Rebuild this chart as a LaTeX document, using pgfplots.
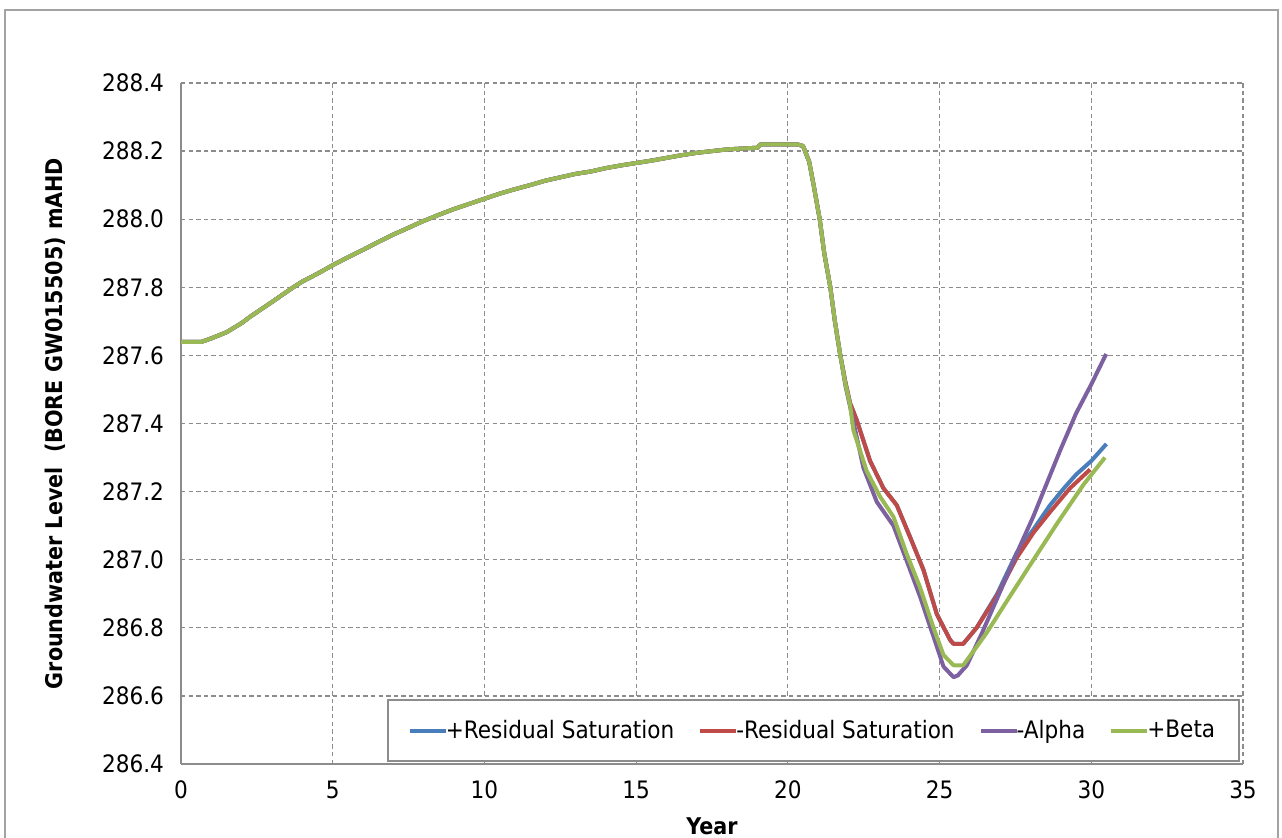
\documentclass[border=0pt]{standalone}
\usepackage{pgfplots}
\pgfplotsset{compat=1.18}
\usepackage{fontspec}
\setmainfont{DejaVu Sans Condensed}
\definecolor{cblue}{HTML}{4A7EBB}
\definecolor{cred}{HTML}{BE4B48}
\definecolor{cpurple}{HTML}{7D60A0}
\definecolor{cgreen}{HTML}{98B954}
\definecolor{gridc}{HTML}{8C8C8C}
\begin{document}
\begin{tikzpicture}[x=1pt,y=1pt]
\useasboundingbox (-90.5,-36.5) rectangle (550.5,382);
\draw[gridc!80, line width=0.8pt] (-88,-45) rectangle (548.5,377);
\begin{axis}[
  at={(0,0)}, anchor=south west,
  scale only axis, width=531pt, height=340.5pt,
  xmin=0, xmax=35, ymin=286.4, ymax=288.4,
  xtick={0,5,10,15,20,25,30,35},
  ytick={286.4,286.6,286.8,287.0,287.2,287.4,287.6,287.8,288.0,288.2,288.4},
  yticklabel style={/pgf/number format/fixed, /pgf/number format/fixed zerofill, /pgf/number format/precision=1},
  /pgf/number format/assume math mode=true,
  ticklabel style={font=\fontsize{12}{14}\selectfont},
  xticklabel style={yshift=-5pt},
  yticklabel style={xshift=-5pt},
  major tick length=0pt,
  axis x line*=bottom, axis y line*=left,
  axis line style={gridc, line width=0.9pt, -},
  grid=major,
  grid style={gridc, line width=0.6pt, dash pattern=on 2.2pt off 1.6pt},
  xlabel={Year}, ylabel={Groundwater Level\ \ (BORE GW015505) mAHD},
  label style={font=\bfseries\fontsize{11.5}{13}\selectfont},
  xlabel style={at={(axis description cs:0.5,-0.091)}, anchor=center},
  ylabel style={at={(axis description cs:-0.1186,0.5)}, anchor=center},
  legend columns=4,
  legend style={at={(rel axis cs:0.9972,0.003)}, anchor=south east,
    draw=gridc, line width=0.8pt, fill=white,
    font=\fontsize{12}{14}\selectfont, inner xsep=10pt, inner ysep=8pt,
    /tikz/every odd column/.append style={column sep=-3pt},
    /tikz/every even column/.append style={column sep=10pt}},
  legend image code/.code={\draw[#1] (0pt,0pt) -- (18pt,0pt);},
  every axis plot/.append style={line width=2pt, line join=round},
]
\addplot[cblue] coordinates {
(0,287.64) (0.68,287.64) (1,287.65) (1.5,287.668) (2,287.695) (2.27,287.713) (3,287.757) (3.7,287.80) (4,287.817) (4.5,287.84) (5,287.865) (5.5,287.888) (6,287.91) (6.5,287.933) (7,287.955) (7.5,287.975) (8,287.995) (8.5,288.013) (9,288.03) (9.5,288.045) (10,288.06) (10.5,288.075) (11,288.088) (11.5,288.10) (12,288.113) (12.5,288.123) (13,288.133) (13.5,288.14) (14,288.15) (14.5,288.158) (15,288.165) (15.5,288.172) (16,288.18) (16.5,288.188) (17,288.195) (17.5,288.20) (18,288.205) (19,288.21) (19.1,288.22) (20.3,288.22) (20.5,288.215) (20.7,288.17) (20.85,288.10) (21.05,288.00) (21.2,287.90) (21.4,287.80) (21.55,287.70) (21.72,287.605) (21.9,287.52) (22.05,287.46)
(22.27,287.41) (22.71,287.29) (23.15,287.21) (23.59,287.16) (24.03,287.066) (24.47,286.97) (24.91,286.84) (25.35,286.764) (25.46,286.753) (25.78,286.753) (26.22,286.80) (26.9,286.90) (27.54,287.02) (28.1,287.09) (28.64,287.16) (29.1,287.21) (29.5,287.25) (30.0,287.29) (30.5,287.34)
};
\addlegendentry{+Residual Saturation}
\addplot[cred] coordinates {
(0,287.64) (0.68,287.64) (1,287.65) (1.5,287.668) (2,287.695) (2.27,287.713) (3,287.757) (3.7,287.80) (4,287.817) (4.5,287.84) (5,287.865) (5.5,287.888) (6,287.91) (6.5,287.933) (7,287.955) (7.5,287.975) (8,287.995) (8.5,288.013) (9,288.03) (9.5,288.045) (10,288.06) (10.5,288.075) (11,288.088) (11.5,288.10) (12,288.113) (12.5,288.123) (13,288.133) (13.5,288.14) (14,288.15) (14.5,288.158) (15,288.165) (15.5,288.172) (16,288.18) (16.5,288.188) (17,288.195) (17.5,288.20) (18,288.205) (19,288.21) (19.1,288.22) (20.3,288.22) (20.5,288.215) (20.7,288.17) (20.85,288.10) (21.05,288.00) (21.2,287.90) (21.4,287.80) (21.55,287.70) (21.72,287.605) (21.9,287.52) (22.05,287.46)
(22.27,287.41) (22.71,287.29) (23.15,287.21) (23.59,287.16) (24.03,287.066) (24.47,286.97) (24.91,286.84) (25.35,286.764) (25.46,286.753) (25.78,286.753) (26.22,286.80) (26.9,286.895) (27.54,287.005) (28.1,287.08) (28.64,287.14) (29.3,287.21) (29.96,287.265)
};
\addlegendentry{-Residual Saturation}
\addplot[cpurple] coordinates {
(0,287.64) (0.68,287.64) (1,287.65) (1.5,287.668) (2,287.695) (2.27,287.713) (3,287.757) (3.7,287.80) (4,287.817) (4.5,287.84) (5,287.865) (5.5,287.888) (6,287.91) (6.5,287.933) (7,287.955) (7.5,287.975) (8,287.995) (8.5,288.013) (9,288.03) (9.5,288.045) (10,288.06) (10.5,288.075) (11,288.088) (11.5,288.10) (12,288.113) (12.5,288.123) (13,288.133) (13.5,288.14) (14,288.15) (14.5,288.158) (15,288.165) (15.5,288.172) (16,288.18) (16.5,288.188) (17,288.195) (17.5,288.20) (18,288.205) (19,288.21) (19.1,288.22) (20.3,288.22) (20.5,288.215) (20.7,288.17) (20.85,288.10) (21.05,288.00) (21.2,287.90) (21.4,287.80) (21.55,287.70) (21.72,287.605) (21.9,287.51)
(22.05,287.45) (22.49,287.27) (22.93,287.17) (23.48,287.10) (23.92,286.996) (24.36,286.891) (24.8,286.774) (25.13,286.686) (25.46,286.655) (25.6,286.66) (25.9,286.69) (26.4,286.785) (26.99,286.905) (27.5,287.01) (28.09,287.127) (28.97,287.32) (29.5,287.43) (30.0,287.515) (30.49,287.604)
};
\addlegendentry{-Alpha}
\addplot[cgreen] coordinates {
(0,287.64) (0.68,287.64) (1,287.65) (1.5,287.668) (2,287.695) (2.27,287.713) (3,287.757) (3.7,287.80) (4,287.817) (4.5,287.84) (5,287.865) (5.5,287.888) (6,287.91) (6.5,287.933) (7,287.955) (7.5,287.975) (8,287.995) (8.5,288.013) (9,288.03) (9.5,288.045) (10,288.06) (10.5,288.075) (11,288.088) (11.5,288.10) (12,288.113) (12.5,288.123) (13,288.133) (13.5,288.14) (14,288.15) (14.5,288.158) (15,288.165) (15.5,288.172) (16,288.18) (16.5,288.188) (17,288.195) (17.5,288.20) (18,288.205) (19,288.21) (19.1,288.22) (20.3,288.22) (20.5,288.215) (20.7,288.17) (20.85,288.10) (21.05,288.00) (21.2,287.90) (21.4,287.80) (21.55,287.70) (21.72,287.605) (21.9,287.515) (22.05,287.455)
(22.16,287.38) (22.6,287.26) (23.04,287.185) (23.48,287.126) (23.92,287.016) (24.36,286.918) (24.8,286.80) (25.13,286.72) (25.46,286.69) (25.78,286.69) (26.22,286.744) (26.55,286.785) (27.3,286.89) (28.09,286.999) (28.9,287.11) (29.74,287.22) (30.45,287.30)
};
\addlegendentry{+Beta}
\end{axis}
\end{tikzpicture}
\end{document}
